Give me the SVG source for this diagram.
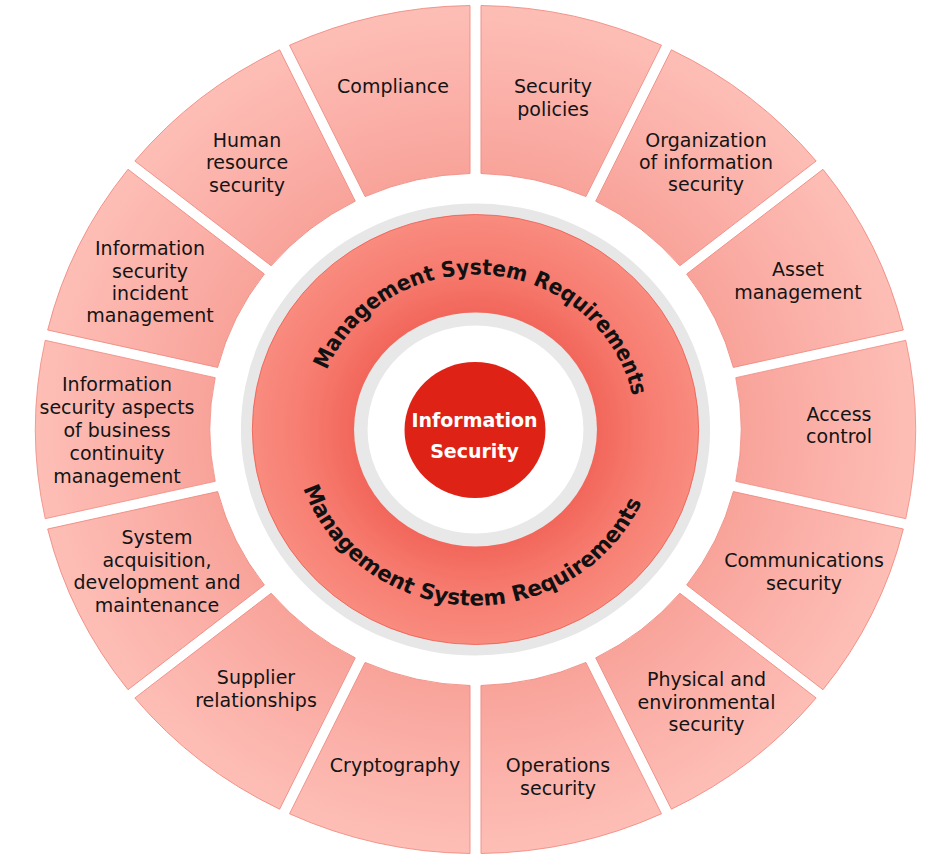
<svg xmlns="http://www.w3.org/2000/svg" xmlns:xlink="http://www.w3.org/1999/xlink" width="947" height="860" viewBox="0 0 947 860">
  <style>
    .seg { fill: url(#segFill); stroke: #f08a80; stroke-width: 0.8; }
    .lbl { font-family: "DejaVu Sans", "Liberation Sans", sans-serif; font-size: 19px; fill: #141414; text-anchor: middle; }
    .ring-text { font-family: "DejaVu Sans", "Liberation Sans", sans-serif; font-weight: bold; font-size: 21.5px; fill: #111111; }
    .core-text { font-family: "DejaVu Sans", "Liberation Sans", sans-serif; font-weight: bold; font-size: 19px; fill: #ffffff; text-anchor: middle; }
  </style>
  <defs>
    <!-- shading of the outer segments: deeper near the hub, paler at the rim -->
    <radialGradient id="segFill" gradientUnits="userSpaceOnUse" cx="0" cy="0" r="424">
      <stop offset="0.6" stop-color="#f8a39a"/>
      <stop offset="0.8" stop-color="#fbb1a9"/>
      <stop offset="1" stop-color="#fdbeb6"/>
    </radialGradient>
    <radialGradient id="ringFill" gradientUnits="userSpaceOnUse" cx="0" cy="0" r="215">
      <stop offset="0.54" stop-color="#f2665a"/>
      <stop offset="0.78" stop-color="#f77d71"/>
      <stop offset="1" stop-color="#f98b7f"/>
    </radialGradient>
    <!-- one annular segment centred on 12 o'clock; the parallel gap edges sit 5.3 units off the radial lines -->
    <path id="segShape" d="M -89.18 -414.52 A 424 424 0 0 1 89.18 -414.52 L 51.84 -250.75 A 261 261 0 0 0 -51.84 -250.75 Z"/>
    <path id="arcTop" d="M -154.41 13.51 A 155 155 0 1 1 149.72 40.12"/>
    <path id="arcBottom" d="M -171.83 -38.09 A 176 176 0 1 0 174.49 -22.97"/>
  </defs>

  <rect width="947" height="860" fill="#ffffff"/>

  <!-- outer ring of control areas, clockwise from 12 o'clock -->
  <g id="security-policies">
    <use xlink:href="#segShape" class="seg" transform="translate(475.5 429.5) scale(1.038 1) rotate(12.857)"/>
    <text class="lbl"><tspan x="553" y="93">Security</tspan><tspan x="553" y="116">policies</tspan></text>
  </g>
  <g id="organization-of-information-security">
    <use xlink:href="#segShape" class="seg" transform="translate(475.5 429.5) scale(1.038 1) rotate(38.571)"/>
    <text class="lbl"><tspan x="706" y="147">Organization</tspan><tspan x="706" y="169">of information</tspan><tspan x="706" y="191">security</tspan></text>
  </g>
  <g id="asset-management">
    <use xlink:href="#segShape" class="seg" transform="translate(475.5 429.5) scale(1.038 1) rotate(64.286)"/>
    <text class="lbl"><tspan x="798" y="276">Asset</tspan><tspan x="798" y="299">management</tspan></text>
  </g>
  <g id="access-control">
    <use xlink:href="#segShape" class="seg" transform="translate(475.5 429.5) scale(1.038 1) rotate(90)"/>
    <text class="lbl"><tspan x="839" y="420.5">Access</tspan><tspan x="839" y="443">control</tspan></text>
  </g>
  <g id="communications-security">
    <use xlink:href="#segShape" class="seg" transform="translate(475.5 429.5) scale(1.038 1) rotate(115.714)"/>
    <text class="lbl"><tspan x="804" y="567">Communications</tspan><tspan x="804" y="590">security</tspan></text>
  </g>
  <g id="physical-and-environmental-security">
    <use xlink:href="#segShape" class="seg" transform="translate(475.5 429.5) scale(1.038 1) rotate(141.429)"/>
    <text class="lbl"><tspan x="706.5" y="686">Physical and</tspan><tspan x="706.5" y="708.5">environmental</tspan><tspan x="706.5" y="731">security</tspan></text>
  </g>
  <g id="operations-security">
    <use xlink:href="#segShape" class="seg" transform="translate(475.5 429.5) scale(1.038 1) rotate(167.143)"/>
    <text class="lbl"><tspan x="558" y="772">Operations</tspan><tspan x="558" y="794.5">security</tspan></text>
  </g>
  <g id="cryptography">
    <use xlink:href="#segShape" class="seg" transform="translate(475.5 429.5) scale(1.038 1) rotate(192.857)"/>
    <text class="lbl"><tspan x="395" y="772">Cryptography</tspan></text>
  </g>
  <g id="supplier-relationships">
    <use xlink:href="#segShape" class="seg" transform="translate(475.5 429.5) scale(1.038 1) rotate(218.571)"/>
    <text class="lbl"><tspan x="256" y="684">Supplier</tspan><tspan x="256" y="707">relationships</tspan></text>
  </g>
  <g id="system-acquisition">
    <use xlink:href="#segShape" class="seg" transform="translate(475.5 429.5) scale(1.038 1) rotate(244.286)"/>
    <text class="lbl"><tspan x="157" y="544">System</tspan><tspan x="157" y="566.5">acquisition,</tspan><tspan x="157" y="589">development and</tspan><tspan x="157" y="611.5">maintenance</tspan></text>
  </g>
  <g id="business-continuity">
    <use xlink:href="#segShape" class="seg" transform="translate(475.5 429.5) scale(1.038 1) rotate(270)"/>
    <text class="lbl"><tspan x="117" y="390.7">Information</tspan><tspan x="117" y="413.5">security aspects</tspan><tspan x="117" y="436.5">of business</tspan><tspan x="117" y="459.5">continuity</tspan><tspan x="117" y="482.5">management</tspan></text>
  </g>
  <g id="incident-management">
    <use xlink:href="#segShape" class="seg" transform="translate(475.5 429.5) scale(1.038 1) rotate(295.714)"/>
    <text class="lbl"><tspan x="150" y="255">Information</tspan><tspan x="150" y="277.5">security</tspan><tspan x="150" y="300">incident</tspan><tspan x="150" y="322">management</tspan></text>
  </g>
  <g id="human-resource-security">
    <use xlink:href="#segShape" class="seg" transform="translate(475.5 429.5) scale(1.038 1) rotate(321.429)"/>
    <text class="lbl"><tspan x="247" y="146.7">Human</tspan><tspan x="247" y="169">resource</tspan><tspan x="247" y="191.7">security</tspan></text>
  </g>
  <g id="compliance">
    <use xlink:href="#segShape" class="seg" transform="translate(475.5 429.5) scale(1.038 1) rotate(347.143)"/>
    <text class="lbl"><tspan x="393" y="93">Compliance</tspan></text>
  </g>

  <!-- management system ring -->
  <g id="management-system-requirements" transform="translate(475.5 429.5) scale(1.038 1)">
    <circle r="226" fill="#e7e7e7"/>
    <circle r="215" fill="url(#ringFill)" stroke="#ee5d50" stroke-width="0.8"/>
    <circle r="117" fill="#e8e8e8"/>
    <circle r="104" fill="#ffffff"/>
    <text class="ring-text"><textPath xlink:href="#arcTop" startOffset="50%" text-anchor="middle" textLength="392" lengthAdjust="spacingAndGlyphs">Management System Requirements</textPath></text>
    <text class="ring-text"><textPath xlink:href="#arcBottom" startOffset="50%" text-anchor="middle" textLength="418" lengthAdjust="spacingAndGlyphs">Management System Requirements</textPath></text>
  </g>

  <!-- core -->
  <g id="information-security">
    <ellipse cx="475" cy="430" rx="70.5" ry="68" fill="#df2216"/>
    <text class="core-text"><tspan x="474.5" y="426.7">Information</tspan><tspan x="474.5" y="458.3">Security</tspan></text>
  </g>
</svg>
